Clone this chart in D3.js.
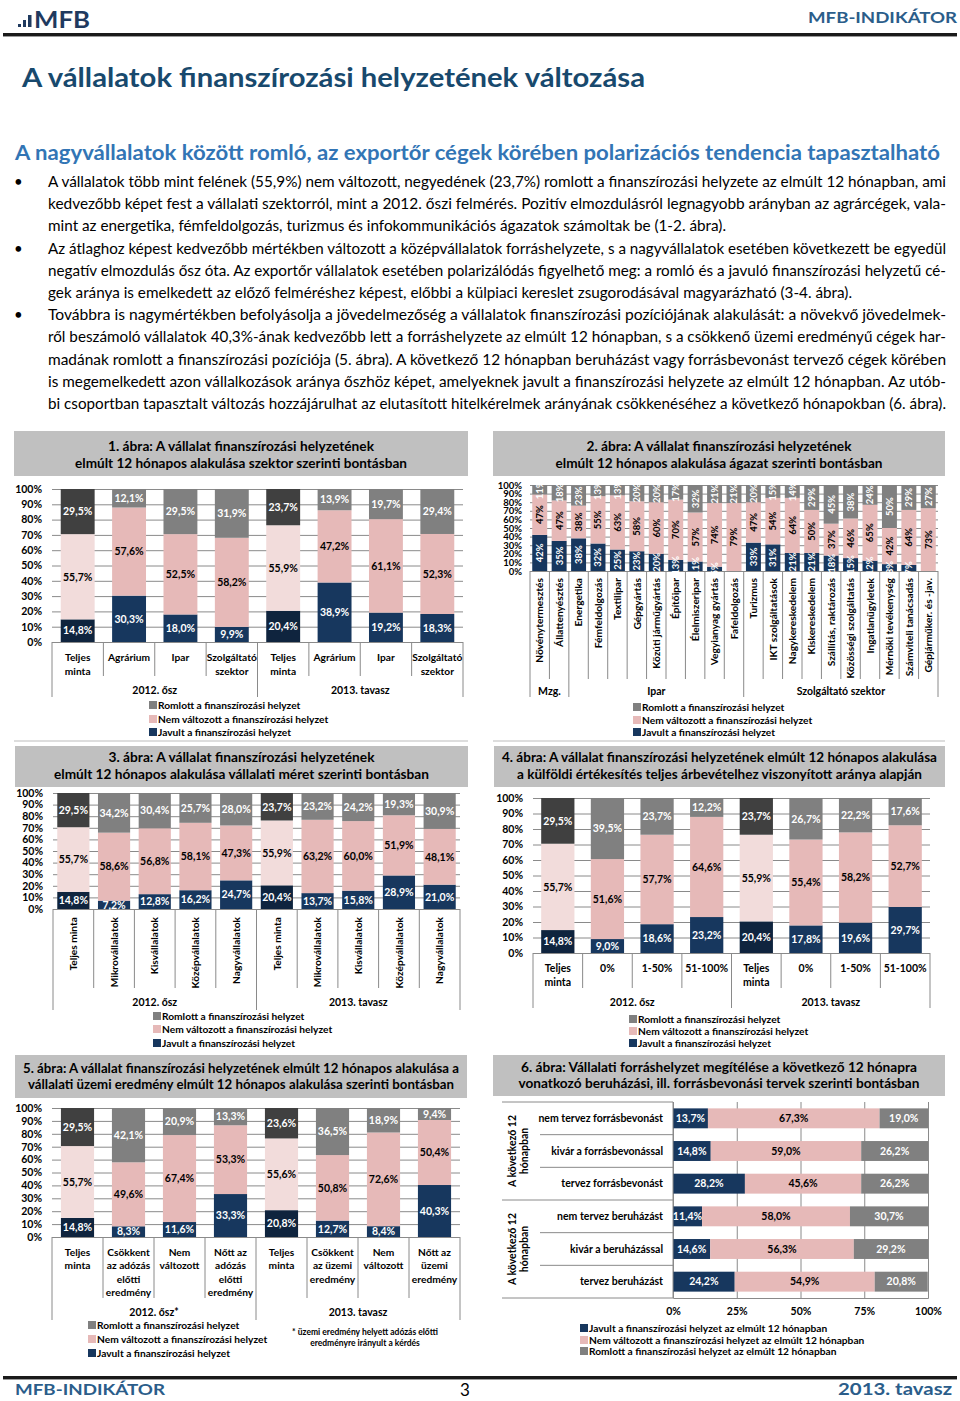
<!DOCTYPE html>
<meta charset="utf-8">
<style>
body { margin: 0; background: #fff; }
svg text { font-family: Lato, "Open Sans", sans-serif; }
</style>
<svg id="page" width="960" height="1401"></svg>
<script src="https://d3js.org/d3.v7.min.js"></script>
<script>

var svg = d3.select("svg#page");

var hu = d3.formatLocale({decimal: ",", thousands: " ", grouping: [3], currency: ["", ""]});
var f1 = hu.format(".1f"), f0 = hu.format(".0f");

// shared
var colors = ["#17375e", "#e6b9b8", "#808080"];
var colorsTotal = ["#0f243e", "#f2dcdb", "#404040"];
var textOn = ["#fff", "#000", "#fff"];
var keys = ["j", "n", "r"];
var legendNames = ["Romlott a finanszírozási helyzet", "Nem változott a finanszírozási helyzet", "Javult a finanszírozási helyzet"];
var pctTicks = [0, 10, 20, 30, 40, 50, 60, 70, 80, 90, 100];
var periods = ["2012. ősz", "2013. tavasz"];

// 1. ábra
var c1Labels = [["Teljes", "minta"], ["Agrárium"], ["Ipar"], ["Szolgáltató", "szektor"]];
var c1Javult = [14.8, 30.3, 18.0, 9.9, 20.4, 38.9, 19.2, 18.3];
var c1Nem = [55.7, 57.6, 52.5, 58.2, 55.9, 47.2, 61.1, 52.3];
var c1Romlott = [29.5, 12.1, 29.5, 31.9, 23.7, 13.9, 19.7, 29.4];

// 2. ábra
var c2Groups = ["Mzg.", "Ipar", "Szolgáltató szektor"];
var c2GroupSizes = [2, 9, 10];
var c2Labels = ["Növénytermesztés", "Állattenyésztés", "Energetika", "Fémfeldolgozás", "Textilipar", "Gépgyártás",
  "Közúti járműgyártás", "Építőipar", "Élelmiszeripar", "Vegyianyag gyártás", "Fafeldolgozás", "Turizmus",
  "IKT szolgáltatások", "Nagykereskedelem", "Kiskereskedelem", "Szállítás, raktározás", "Közösségi szolgáltatás",
  "Ingatlanügyletek", "Mérnöki tevékenység", "Számviteli tanácsadás", "Gépjárműker. és -jav."];
var c2Javult = [42, 35, 38, 32, 25, 23, 20, 13, 11, 5, 0, 33, 31, 21, 21, 18, 15, 12, 8, 7, 0];
var c2Nem = [47, 47, 38, 55, 63, 58, 60, 70, 57, 74, 79, 47, 54, 64, 50, 37, 46, 65, 42, 64, 73];
var c2Romlott = [11, 18, 23, 13, 13, 20, 20, 17, 32, 21, 21, 20, 15, 14, 29, 45, 38, 24, 50, 29, 27];

// 3. ábra
var c3Labels = [["Teljes minta"], ["Mikrovállalatok"], ["Kisvállalatok"], ["Középvállalatok"], ["Nagyvállalatok"]];
var c3Javult = [14.8, 7.2, 12.8, 16.2, 24.7, 20.4, 13.7, 15.8, 28.9, 21.0];
var c3Nem = [55.7, 58.6, 56.8, 58.1, 47.3, 55.9, 63.2, 60.0, 51.9, 48.1];
var c3Romlott = [29.5, 34.2, 30.4, 25.7, 28.0, 23.7, 23.2, 24.2, 19.3, 30.9];

// 4. ábra
var c4Labels = [["Teljes", "minta"], ["0%"], ["1-50%"], ["51-100%"]];
var c4Javult = [14.8, 9.0, 18.6, 23.2, 20.4, 17.8, 19.6, 29.7];
var c4Nem = [55.7, 51.6, 57.7, 64.6, 55.9, 55.4, 58.2, 52.7];
var c4Romlott = [29.5, 39.5, 23.7, 12.2, 23.7, 26.7, 22.2, 17.6];

// 5. ábra
var c5Periods = ["2012. ősz*", "2013. tavasz"];
var c5Labels = [["Teljes", "minta"], ["Csökkent", "az adózás", "előtti", "eredmény"], ["Nem", "változott"], ["Nőtt az", "adózás", "előtti", "eredmény"],
  ["Teljes", "minta"], ["Csökkent", "az üzemi", "eredmény"], ["Nem", "változott"], ["Nőtt az", "üzemi", "eredmény"]];
var c5Javult = [14.8, 8.3, 11.6, 33.3, 20.8, 12.7, 8.4, 40.3];
var c5Nem = [55.7, 49.6, 67.4, 53.3, 55.6, 50.8, 72.6, 50.4];
var c5Romlott = [29.5, 42.1, 20.9, 13.3, 23.6, 36.5, 18.9, 9.4];

// 6. ábra
var c6Group = ["A következő 12", "hónapban"];
var c6Labels = ["nem tervez forrásbevonást", "kivár a forrásbevonással", "tervez forrásbevonást",
  "nem tervez beruházást", "kivár a beruházással", "tervez beruházást"];
var c6Javult = [13.7, 14.8, 28.2, 11.4, 14.6, 24.2];
var c6Nem = [67.3, 59.0, 45.6, 58.0, 56.3, 54.9];
var c6Romlott = [19.0, 26.2, 26.2, 30.7, 29.2, 20.8];
var c6Ticks = [0, 25, 50, 75, 100];
var c6Legend = ["Javult a finanszírozási helyzet az elmúlt 12 hónapban", "Nem változott a finanszírozási helyzet az elmúlt 12 hónapban", "Romlott a finanszírozási helyzet az elmúlt 12 hónapban"];

// body text
var heading = "A vállalatok finanszírozási helyzetének változása";
var subHeading = "A nagyvállalatok között romló, az exportőr cégek körében polarizációs tendencia tapasztalható";
var bodyLines = [
  "A vállalatok több mint felének (55,9%) nem változott, negyedének (23,7%) romlott a finanszírozási helyzete az elmúlt 12 hónapban, ami",
  "kedvezőbb képet fest a vállalati szektorról, mint a 2012. őszi felmérés. Pozitív elmozdulásról legnagyobb arányban az agrárcégek, vala-",
  "mint az energetika, fémfeldolgozás, turizmus és infokommunikációs ágazatok számoltak be (1-2. ábra).",
  "Az átlaghoz képest kedvezőbb mértékben változott a középvállalatok forráshelyzete, s a nagyvállalatok esetében következett be egyedül",
  "negatív elmozdulás ősz óta. Az exportőr vállalatok esetében polarizálódás figyelhető meg: a romló és a javuló finanszírozási helyzetű cé-",
  "gek aránya is emelkedett az előző felméréshez képest, előbbi a külpiaci kereslet zsugorodásával magyarázható (3-4. ábra).",
  "Továbbra is nagymértékben befolyásolja a jövedelmezőség a vállalatok finanszírozási pozíciójának alakulását: a növekvő jövedelmek-",
  "ről beszámoló vállalatok 40,3%-ának kedvezőbb lett a forráshelyzete az elmúlt 12 hónapban, s a csökkenő üzemi eredményű cégek har-",
  "madának romlott a finanszírozási pozíciója (5. ábra). A következő 12 hónapban beruházást vagy forrásbevonást tervező cégek körében",
  "is megemelkedett azon vállalkozások aránya őszhöz képet, amelyeknek javult a finanszírozási helyzete az elmúlt 12 hónapban. Az utób-",
  "bi csoportban tapasztalt változás hozzájárulhat az elutasított hitelkérelmek arányának csökkenéséhez a következő hónapokban (6. ábra)."
];
var bulletStarts = [0, 3, 6];

// ---------- page frame ----------
var condensed = "'DejaVu Sans Condensed', 'DejaVu Sans', sans-serif";

var logo = svg.append("g").attr("fill", "#1f3a5f");
logo.append("rect").attr("x", 18).attr("y", 24).attr("width", 3).attr("height", 3);
logo.append("rect").attr("x", 23).attr("y", 20).attr("width", 3).attr("height", 7);
logo.append("rect").attr("x", 28).attr("y", 15).attr("width", 3.5).attr("height", 12);
logo.append("text").attr("x", 34).attr("y", 27.5).attr("font-family", condensed).attr("font-weight", "bold").attr("font-size", 22)
  .attr("textLength", 56).attr("lengthAdjust", "spacingAndGlyphs").text("MFB");

svg.append("text").attr("x", 957).attr("y", 23).attr("text-anchor", "end").attr("font-family", condensed)
  .attr("font-weight", "bold").attr("font-size", 16).attr("fill", "#2b5d8a")
  .attr("textLength", 149).attr("lengthAdjust", "spacingAndGlyphs").text("MFB-INDIKÁTOR");
svg.append("rect").attr("x", 3).attr("y", 33).attr("width", 954).attr("height", 3).attr("fill", "#1a1a1a");
svg.append("rect").attr("x", 3).attr("y", 36).attr("width", 954).attr("height", 1).attr("fill", "#9a9a9a");

svg.append("text").attr("x", 22).attr("y", 87).attr("font-family", condensed).attr("font-weight", "bold")
  .attr("font-size", 26).attr("fill", "#18496d").attr("textLength", 623).attr("lengthAdjust", "spacingAndGlyphs").text(heading);
svg.append("text").attr("x", 15).attr("y", 160).attr("font-family", condensed).attr("font-weight", "bold")
  .attr("font-size", 20).attr("fill", "#3275b5").attr("textLength", 925).attr("lengthAdjust", "spacingAndGlyphs").text(subHeading);

var lineEnds = [946, 946, 726, 946, 946, 852, 946, 946, 946, 946, 946];
bodyLines.forEach(function(l, i) {
  var yy = 187 + i * 22.2;
  svg.append("text").attr("x", 48).attr("y", yy).attr("font-size", 15).attr("fill", "#000")
    .attr("textLength", lineEnds[i] - 48).attr("lengthAdjust", "spacingAndGlyphs").text(l);
  if (bulletStarts.indexOf(i) >= 0)
    svg.append("text").attr("x", 14).attr("y", yy).attr("font-size", 15).text("•");
});

svg.append("rect").attr("x", 3).attr("y", 1376).attr("width", 954).attr("height", 3).attr("fill", "#1a1a1a");
svg.append("rect").attr("x", 3).attr("y", 1379).attr("width", 954).attr("height", 1).attr("fill", "#9a9a9a");
svg.append("text").attr("x", 15).attr("y", 1395).attr("font-family", condensed).attr("font-weight", "bold")
  .attr("font-size", 16).attr("fill", "#2b5d8a").attr("textLength", 150).attr("lengthAdjust", "spacingAndGlyphs").text("MFB-INDIKÁTOR");
svg.append("text").attr("x", 465).attr("y", 1396).attr("text-anchor", "middle").attr("font-size", 17).text("3");
svg.append("text").attr("x", 952).attr("y", 1395).attr("text-anchor", "end").attr("font-family", condensed).attr("font-weight", "bold")
  .attr("font-size", 17).attr("fill", "#2b5d8a").attr("textLength", 114).attr("lengthAdjust", "spacingAndGlyphs").text("2013. tavasz");

// ---------- helpers ----------
function titleBand(b) {
  svg.append("rect").attr("x", b.x).attr("y", b.y).attr("width", b.w).attr("height", b.h).attr("fill", "#c0c0c0");
  b.lines.forEach(function(l, i) {
    svg.append("text").attr("x", b.x + b.w / 2).attr("y", b.ys[i]).attr("text-anchor", "middle")
      .attr("font-size", b.fs).attr("font-weight", "bold").attr("fill", "#000")
      .attr("textLength", b.lens[i]).attr("lengthAdjust", "spacingAndGlyphs").text(l);
  });
}

function legend(x, ys, names, cols, fs) {
  names.forEach(function(t, i) {
    svg.append("rect").attr("x", x).attr("y", ys[i] - 4).attr("width", 8).attr("height", 8).attr("fill", cols[i]);
    svg.append("text").attr("x", x + 9).attr("y", ys[i] + 4).attr("font-size", fs).attr("font-weight", "bold").text(t);
  });
}

function columnChart(c) {
  var g = svg.append("g");
  var n = c.javult.length;
  var rows = d3.range(n).map(function(i) { return {i: i, j: c.javult[i], n: c.nem[i], r: c.romlott[i]}; });
  var stack = d3.stack().keys(keys)(rows);
  var x = d3.scaleBand().domain(d3.range(n)).range([c.left, c.right]).paddingInner(c.pad).paddingOuter(c.pad / 2);
  var y = d3.scaleLinear().domain([0, 100]).range([c.bottom, c.top]).clamp(true);

  var grid = g.append("g").attr("transform", "translate(" + c.left + ",0)")
    .call(d3.axisLeft(y).tickValues(pctTicks).tickSize(-(c.right - c.left)).tickPadding(c.tickPad)
      .tickFormat(function(d) { return d + "%"; }));
  grid.select(".domain").remove();
  grid.selectAll(".tick line").attr("stroke", "#8a8a8a");
  grid.selectAll(".tick text").attr("font-family", "Lato").attr("font-size", c.tickFs).attr("font-weight", "bold").attr("fill", "#000");

  var isTotal = function(i) { return c.total.indexOf(i) >= 0; };
  stack.forEach(function(layer, k) {
    g.append("g").selectAll("rect").data(layer).join("rect")
      .attr("x", function(d) { return x(d.data.i); })
      .attr("width", x.bandwidth())
      .attr("y", function(d) { return y(d[1]); })
      .attr("height", function(d) { return y(d[0]) - y(d[1]); })
      .attr("fill", function(d) { return isTotal(d.data.i) ? colorsTotal[k] : colors[k]; });
  });
  stack.forEach(function(layer, k) {
    g.append("g").selectAll("text").data(layer.filter(function(d) { return d.data[keys[k]] > 0; })).join("text")
      .attr("transform", function(d) {
        var cx = x(d.data.i) + x.bandwidth() / 2, cy = (y(d[0]) + y(d[1])) / 2;
        return "translate(" + cx + "," + cy + ")" + (c.rotateVals ? " rotate(-90)" : "");
      })
      .attr("text-anchor", "middle").attr("dy", "0.36em")
      .attr("font-size", c.valFs).attr("font-weight", "bold").attr("fill", textOn[k])
      .text(function(d) { return c.fmt(d.data[keys[k]]) + "%"; });
  });

  // category axis
  var step = x.step();
  var gb = [0];
  c.groupSizes.forEach(function(s) { gb.push(gb[gb.length - 1] + s); });
  d3.range(n + 1).forEach(function(b) {
    var isG = gb.indexOf(b) >= 0;
    g.append("line").attr("x1", c.left + b * step).attr("x2", c.left + b * step)
      .attr("y1", c.bottom).attr("y2", isG ? c.groupBot : c.sepBot).attr("stroke", "#8a8a8a");
  });
  c.groupNames.forEach(function(name, k) {
    g.append("text").attr("x", c.left + (gb[k] + gb[k + 1]) / 2 * step).attr("y", c.groupY)
      .attr("text-anchor", "middle").attr("font-size", c.groupFs || c.catFs).attr("font-weight", "bold").text(name);
  });
  c.cats.forEach(function(lines, i) {
    var cx = x(i) + x.bandwidth() / 2;
    if (c.rotateCats) {
      g.append("text").attr("transform", "translate(" + cx + "," + c.catTop + ") rotate(-90)")
        .attr("text-anchor", "end").attr("dy", "0.36em")
        .attr("font-size", c.catFs).attr("font-weight", "bold").text([].concat(lines).join(" "));
    } else {
      lines.forEach(function(l, li) {
        g.append("text").attr("x", cx).attr("y", c.catY + li * c.catLh).attr("text-anchor", "middle")
          .attr("font-size", c.catFs).attr("font-weight", "bold").text(l);
      });
    }
  });
}

var legendCols = [colors[2], colors[1], colors[0]];

// ---------- 1. ábra ----------
titleBand({x: 14, y: 431, w: 454, h: 45, fs: 13.5, ys: [451, 468],
  lines: ["1. ábra: A vállalat finanszírozási helyzetének", "elmúlt 12 hónapos alakulása szektor szerinti bontásban"], lens: [266, 332]});
columnChart({javult: c1Javult, nem: c1Nem, romlott: c1Romlott, total: [0, 4], cats: c1Labels.concat(c1Labels),
  left: 52, right: 463, top: 489, bottom: 642, pad: 0.34, tickPad: 10, tickFs: 10.5, valFs: 10.5, fmt: f1,
  catFs: 10.2, groupFs: 10.5, catY: 661, catLh: 13.5, sepBot: 676, groupBot: 697, groupY: 694,
  groupSizes: [4, 4], groupNames: periods});
legend(149, [705, 719, 732], legendNames, legendCols, 10.2);
svg.append("line").attr("x1", 14).attr("x2", 468).attr("y1", 741).attr("y2", 741).attr("stroke", "#bbb");

// ---------- 2. ábra ----------
titleBand({x: 493, y: 431, w: 452, h: 45, fs: 13.5, ys: [451, 468],
  lines: ["2. ábra: A vállalat finanszírozási helyzetének", "elmúlt 12 hónapos alakulása ágazat szerinti bontásban"], lens: [265, 327]});
columnChart({javult: c2Javult, nem: c2Nem, romlott: c2Romlott, total: [], cats: c2Labels, rotateVals: true, rotateCats: true,
  left: 530, right: 938, top: 485, bottom: 571, pad: 0.23, tickPad: 8, tickFs: 9.5, valFs: 9.5, fmt: f0,
  catFs: 10.2, groupFs: 10.5, catTop: 578, sepBot: 679, groupBot: 697, groupY: 695,
  groupSizes: c2GroupSizes, groupNames: c2Groups});
legend(633, [707, 720, 732], legendNames, legendCols, 10.2);
svg.append("line").attr("x1", 493).attr("x2", 945).attr("y1", 741).attr("y2", 741).attr("stroke", "#bbb");

// ---------- 3. ábra ----------
titleBand({x: 15, y: 746, w: 453, h: 41, fs: 13.5, ys: [762, 779],
  lines: ["3. ábra: A vállalat finanszírozási helyzetének", "elmúlt 12 hónapos alakulása vállalati méret szerinti bontásban"], lens: [266, 375]});
columnChart({javult: c3Javult, nem: c3Nem, romlott: c3Romlott, total: [0, 5], cats: c3Labels.concat(c3Labels), rotateCats: true,
  left: 53, right: 460, top: 793, bottom: 909, pad: 0.21, tickPad: 10, tickFs: 10.5, valFs: 10.5, fmt: f1,
  catFs: 10.2, groupFs: 10.5, catTop: 917, sepBot: 988, groupBot: 1010, groupY: 1006,
  groupSizes: [5, 5], groupNames: periods});
legend(153, [1016, 1029, 1043], legendNames, legendCols, 10.2);

// ---------- 4. ábra ----------
titleBand({x: 494, y: 746, w: 451, h: 41, fs: 13.5, ys: [762, 779],
  lines: ["4. ábra: A vállalat finanszírozási helyzetének elmúlt 12 hónapos alakulása", "a külföldi értékesítés teljes árbevételhez viszonyított aránya alapján"], lens: [435, 405]});
columnChart({javult: c4Javult, nem: c4Nem, romlott: c4Romlott, total: [0, 4], cats: c4Labels.concat(c4Labels),
  left: 533, right: 930, top: 798, bottom: 953, pad: 0.33, tickPad: 10, tickFs: 10.5, valFs: 10.5, fmt: f1,
  catFs: 10.5, catY: 972, catLh: 14, sepBot: 988, groupBot: 1008, groupY: 1006,
  groupSizes: [4, 4], groupNames: periods});
legend(629, [1019, 1031, 1043], legendNames, legendCols, 10.2);

// ---------- 5. ábra ----------
titleBand({x: 15, y: 1055, w: 452, h: 43, fs: 14, ys: [1073, 1089],
  lines: ["5. ábra: A vállalat finanszírozási helyzetének elmúlt 12 hónapos alakulása a", "vállalati üzemi eredmény elmúlt 12 hónapos alakulása szerinti bontásban"], lens: [436, 426]});
columnChart({javult: c5Javult, nem: c5Nem, romlott: c5Romlott, total: [0, 4], cats: c5Labels,
  left: 52, right: 460, top: 1108, bottom: 1237, pad: 0.35, tickPad: 10, tickFs: 10.5, valFs: 10.5, fmt: f1,
  catFs: 10.2, groupFs: 10.5, catY: 1256, catLh: 13.4, sepBot: 1298, groupBot: 1320, groupY: 1316,
  groupSizes: [4, 4], groupNames: c5Periods});
legend(88, [1325, 1339, 1353], legendNames, legendCols, 10.2);
svg.append("text").attr("x", 365).attr("y", 1335).attr("text-anchor", "middle").attr("font-size", 8.5).attr("font-weight", "bold")
  .text("* üzemi eredmény helyett adózás előtti");
svg.append("text").attr("x", 365).attr("y", 1346).attr("text-anchor", "middle").attr("font-size", 8.5).attr("font-weight", "bold")
  .text("eredményre irányult a kérdés");

// ---------- 6. ábra ----------
titleBand({x: 493, y: 1055, w: 452, h: 41, fs: 13.5, ys: [1072, 1088],
  lines: ["6. ábra: Vállalati forráshelyzet megítélése a következő 12 hónapra", "vonatkozó beruházási, ill. forrásbevonási tervek szerinti bontásban"], lens: [396, 401]});

(function() {
  var g = svg.append("g");
  var left = 673, right = 928, top = 1102, bottom = 1298;
  var rows = d3.range(c6Labels.length).map(function(i) { return {i: i, j: c6Javult[i], n: c6Nem[i], r: c6Romlott[i]}; });
  var stack = d3.stack().keys(keys)(rows);
  var x = d3.scaleLinear().domain([0, 100]).range([left, right]).clamp(true);
  var y = d3.scaleBand().domain(d3.range(rows.length)).range([top, bottom]).paddingInner(0.39).paddingOuter(0.195);

  var ax = g.append("g").attr("transform", "translate(0," + bottom + ")")
    .call(d3.axisBottom(x).tickValues(c6Ticks).tickSize(-(bottom - top)).tickPadding(10)
      .tickFormat(function(d) { return d + "%"; }));
  ax.select(".domain").attr("stroke", "#8a8a8a");
  ax.selectAll(".tick line").attr("stroke", "#8a8a8a");
  ax.selectAll(".tick text").attr("font-family", "Lato").attr("font-size", 10.5).attr("font-weight", "bold").attr("fill", "#000");

  stack.forEach(function(layer, k) {
    g.append("g").selectAll("rect").data(layer).join("rect")
      .attr("y", function(d) { return y(d.data.i); })
      .attr("height", y.bandwidth())
      .attr("x", function(d) { return x(d[0]); })
      .attr("width", function(d) { return x(d[1]) - x(d[0]); })
      .attr("fill", colors[k]);
    g.append("g").selectAll("text").data(layer).join("text")
      .attr("x", function(d) { return (x(d[0]) + x(d[1])) / 2; })
      .attr("y", function(d) { return y(d.data.i) + y.bandwidth() / 2; })
      .attr("dy", "0.36em").attr("text-anchor", "middle")
      .attr("font-size", 10.5).attr("font-weight", "bold").attr("fill", textOn[k])
      .text(function(d) { return f1(d.data[keys[k]]) + "%"; });
  });

  var step = y.step();
  g.append("line").attr("x1", left).attr("x2", left).attr("y1", top).attr("y2", bottom).attr("stroke", "#8a8a8a");
  d3.range(rows.length + 1).forEach(function(b) {
    var isG = b % 3 === 0;
    g.append("line").attr("x1", isG ? 502 : 540).attr("x2", left)
      .attr("y1", top + b * step).attr("y2", top + b * step).attr("stroke", "#8a8a8a");
  });
  c6Labels.forEach(function(l, i) {
    g.append("text").attr("x", 663).attr("y", y(i) + y.bandwidth() / 2).attr("dy", "0.36em")
      .attr("text-anchor", "end").attr("font-size", 10.5).attr("font-weight", "bold").text(l);
  });
  [0, 1].forEach(function(k) {
    var cy = top + (k * 3 + 1.5) * step;
    c6Group.forEach(function(l, li) {
      g.append("text").attr("transform", "translate(" + (512 + li * 12.5) + "," + cy + ") rotate(-90)")
        .attr("text-anchor", "middle").attr("dy", "0.36em").attr("font-size", 10.5).attr("font-weight", "bold").text(l);
    });
  });
})();
legend(580, [1328, 1340, 1351], c6Legend, colors, 10.2);

</script>
